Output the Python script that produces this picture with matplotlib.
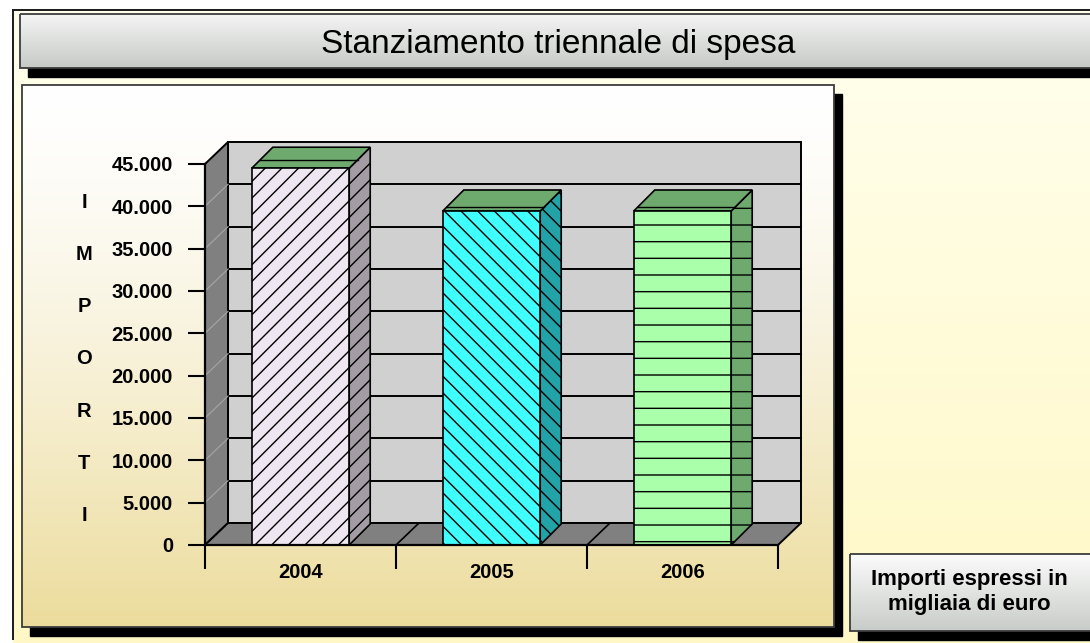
import numpy as np
import matplotlib
matplotlib.use("Agg")
import matplotlib.pyplot as plt
from matplotlib.patches import Polygon, Rectangle
from matplotlib.colors import to_rgb

# ---- data -------------------------------------------------------------
years = ["2004", "2005", "2006"]
amounts = [44500, 39450, 39450]
y_ticks = [0, 5000, 10000, 15000, 20000, 25000, 30000, 35000, 40000, 45000]
y_tick_labels = ["0", "5.000", "10.000", "15.000", "20.000", "25.000",
                 "30.000", "35.000", "40.000", "45.000"]
axis_letters = ["I", "M", "P", "O", "R", "T", "I"]
title_text = "Stanziamento triennale di spesa"
note_text = "Importi espressi in\nmigliaia di euro"

# ---- styling ----------------------------------------------------------
front_colors = ["#EEE6F0", "#40FFFF", "#AAFFAA"]
side_colors = ["#A39CA4", "#22A3A8", "#6EAA6E"]
top_color = "#6EAA6E"
hatches = ["//", "\\\\", "-"]
cap_split = [0.40, 0.18, 0.18]

plt.rcParams["font.family"] = ["Liberation Sans", "DejaVu Sans"]
plt.rcParams["hatch.color"] = "black"
plt.rcParams["hatch.linewidth"] = 1.0

W, H = 1090, 643
fig = plt.figure(figsize=(W / 100, H / 100), dpi=100)
fig.patch.set_facecolor("white")


def px_rect(x0, y0, x1, y1):
    """Figure-fraction rectangle from pixel box measured from the top-left."""
    return [x0 / W, 1 - y1 / H, (x1 - x0) / W, (y1 - y0) / H]


# ---- background panels --------------------------------------------------
bg = fig.add_axes([0, 0, 1, 1], zorder=0)
bg.axis("off")


def gradient(x0, y0, x1, y1, top, bottom, z, gamma=1.0):
    t = np.linspace(0, 1, 256) ** gamma
    c0, c1 = np.array(to_rgb(top)), np.array(to_rgb(bottom))
    arr = c0[None, :] * (1 - t[:, None]) + c1[None, :] * t[:, None]
    bg.imshow(arr[:, None, :], extent=(x0, x1, y1, y0), aspect="auto",
              origin="upper", zorder=z, interpolation="bilinear")


def panel(x0, y0, x1, y1, top, bottom, z, sx=8, sy=9, gamma=1.0):
    bg.add_patch(Rectangle((x0 + sx, y0 + sy), x1 - x0, y1 - y0,
                           color="black", zorder=z))
    gradient(x0, y0, x1, y1, top, bottom, z + 0.1, gamma)
    bg.add_patch(Rectangle((x0, y0), x1 - x0, y1 - y0, fill=False,
                           ec="#3c3c3c", lw=1.3, zorder=z + 0.2))


# page area
gradient(13, 10, W, H, "#FFFFEE", "#FFF8C6", 0.5)
bg.plot([13, 13], [10, 639], color="#1a1a1a", lw=1.4, zorder=0.6)
bg.plot([13, W], [10, 10], color="#1a1a1a", lw=1.4, zorder=0.6)

# title bar
panel(20, 14, W + 10, 68, "#F4F4F4", "#C6CAC6", 1)
bg.text(558, 53, title_text, ha="center", va="baseline",
        fontsize=24, color="black", zorder=2)

# chart area
panel(22, 85, 834, 627, "#FFFFFF", "#ECDC9C", 1, gamma=1.4)

# note box
panel(850, 554, W + 10, 631, "#FBFBFB", "#C8CCC8", 1)
bg.text(969, 592, note_text, ha="center", va="center", ma="center",
        fontsize=16, fontweight="bold", linespacing=1.3, zorder=2)

bg.set_xlim(0, W)
bg.set_ylim(H, 0)

# vertical axis caption, one letter per row
for k, letter in enumerate(axis_letters):
    bg.text(84, 202 + k * 52.3, letter, ha="center", va="center",
            fontsize=14.5, fontweight="bold", zorder=2)

# ---- 3-D column chart ---------------------------------------------------
ax = fig.add_axes(px_rect(205, 164, 778, 545), zorder=2)
ax.set_xlim(-0.5, 2.5)
ax.set_ylim(0, 45000)
ax.patch.set_visible(False)


def depth(px_x, px_y):
    """Convert a screen offset in pixels to data units."""
    o = ax.transData.transform((0, 0))
    d = ax.transData.inverted().transform(o + np.array([px_x, px_y]))
    return d[0], d[1]


dx, dy = depth(23, 22)
bdx, bdy = depth(21, 21)
x_lo, x_hi = -0.5, 2.5
y_top = y_ticks[-1]
lw = 1.4

# back wall with gridlines
ax.add_patch(Rectangle((x_lo + dx, dy), x_hi - x_lo, y_top, fc="#D0D0D0",
                       ec="black", lw=lw, clip_on=False, zorder=1))
for t in y_ticks[1:-1]:
    ax.plot([x_lo + dx, x_hi + dx], [t + dy, t + dy], color="black",
            lw=lw, clip_on=False, zorder=1.1)

# side wall
ax.add_patch(Polygon([(x_lo, 0), (x_lo, y_top), (x_lo + dx, y_top + dy),
                      (x_lo + dx, dy)], closed=True, fc="#808080",
                     ec="black", lw=lw, clip_on=False, zorder=1.2))
for t in y_ticks[1:-1]:
    ax.plot([x_lo, x_lo + dx], [t, t + dy], color="#A6A6A6", lw=0.8,
            clip_on=False, zorder=1.25)

# floor
ax.add_patch(Polygon([(x_lo, 0), (x_hi, 0), (x_hi + dx, dy), (x_lo + dx, dy)],
                     closed=True, fc="#808080", ec="black", lw=lw,
                     clip_on=False, zorder=1.3))
for b in np.arange(x_lo + 1, x_hi):
    ax.plot([b, b + dx], [0, dy], color="black", lw=1.2, clip_on=False,
            zorder=1.35)

# columns
bw = 0.51
for i, v in enumerate(amounts):
    xl, xr = i - bw / 2, i + bw / 2
    ax.add_patch(Polygon([(xr, 0), (xr, v), (xr + bdx, v + bdy), (xr + bdx, bdy)],
                         closed=True, fc=side_colors[i], ec="black", lw=1.2,
                         hatch=hatches[i], clip_on=False, zorder=3))
    ax.add_patch(Polygon([(xl, v), (xr, v), (xr + bdx, v + bdy), (xl + bdx, v + bdy)],
                         closed=True, fc=top_color, ec="black", lw=1.2,
                         clip_on=False, zorder=3))
    f = cap_split[i]
    ax.plot([xl + f * bdx, xr + f * bdx], [v + f * bdy, v + f * bdy],
            color="black", lw=1.0, clip_on=False, zorder=3.05)
    ax.bar(i, v, width=bw, color=front_colors[i], edgecolor="black",
           linewidth=1.2, hatch=hatches[i], zorder=3.1)

# axes, ticks and labels
for side in ("top", "right"):
    ax.spines[side].set_visible(False)
for side in ("left", "bottom"):
    ax.spines[side].set_linewidth(1.6)
    ax.spines[side].set_zorder(4)

ax.set_yticks(y_ticks, y_tick_labels)
ax.tick_params(axis="y", length=12, width=1.5, pad=11, labelsize=14.5)
for lab in ax.get_yticklabels():
    lab.set_fontweight("bold")

ax.set_xticks(np.arange(x_lo, x_hi + 0.01, 1.0), [""] * 4)
ax.tick_params(axis="x", which="major", length=17, width=1.5)
ax.set_xticks(range(len(years)), years, minor=True)
ax.tick_params(axis="x", which="minor", length=0, pad=13, labelsize=14.5)
for lab in ax.get_xticklabels(minor=True):
    lab.set_fontweight("bold")

fig.savefig("out.png", dpi=100, facecolor=fig.get_facecolor())
